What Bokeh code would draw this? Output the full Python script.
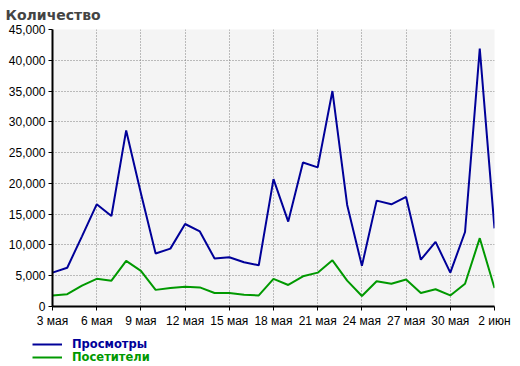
from bokeh.plotting import figure
from bokeh.models import ColumnDataSource, NumeralTickFormatter, FixedTicker, Range1d, Legend, LegendItem
from bokeh.embed import file_html
from bokeh.resources import INLINE

days = ["3 мая", "4 мая", "5 мая", "6 мая", "7 мая", "8 мая", "9 мая", "10 мая", "11 мая", "12 мая",
        "13 мая", "14 мая", "15 мая", "16 мая", "17 мая", "18 мая", "19 мая", "20 мая", "21 мая", "22 мая",
        "23 мая", "24 мая", "25 мая", "26 мая", "27 мая", "28 мая", "29 мая", "30 мая", "31 мая", "1 июн", "2 июн"]
views = [5500, 6300, 11400, 16600, 14700, 28600, 18400, 8600, 9400, 13400,
         12200, 7800, 8000, 7200, 6700, 20700, 13800, 23400, 22600, 35000,
         16500, 6600, 17200, 16600, 17800, 7600, 10500, 5500, 12100, 41900, 12700]
visitors = [1800, 2000, 3400, 4500, 4200, 7400, 5800, 2700, 3000, 3200,
            3100, 2200, 2200, 1900, 1800, 4500, 3500, 4900, 5500, 7500,
            4200, 1700, 4100, 3700, 4400, 2200, 2800, 1800, 3700, 11100, 3000]
tick_days = [0, 3, 6, 9, 12, 15, 18, 21, 24, 27, 30]
tick_labels = ["3 мая", "6 мая", "9 мая", "12 мая", "15 мая", "18 мая", "21 мая", "24 мая", "27 мая", "30 мая", "2 июн"]
y_ticks = [0, 5000, 10000, 15000, 20000, 25000, 30000, 35000, 40000, 45000]
series_names = ["Просмотры", "Посетители"]

BLUE = "#000099"
GREEN = "#009900"

src = ColumnDataSource(dict(x=list(range(len(days))), day=days, views=views, visitors=visitors))

p = figure(width=520, height=330, output_backend="svg", toolbar_location=None,
           x_range=Range1d(0, len(days) - 1), y_range=Range1d(0, 45000),
           min_border_left=52, min_border_right=26, min_border_top=29, min_border_bottom=24,
           title="Количество")
p.title.text_font = "DejaVu Sans"
p.title.text_font_style = "bold"
p.title.text_font_size = "14px"
p.title.align = "left"
p.title.vertical_align = "top"
p.title.offset = -47
p.title.standoff = 10

p.background_fill_color = "#f4f4f4"
p.border_fill_color = "white"
p.outline_line_color = None

for ax in (p.xaxis[0], p.yaxis[0]):
    ax.axis_line_color = "black"
    ax.axis_line_width = 2
    ax.major_tick_line_color = "black"
    ax.major_tick_line_width = 1
    ax.major_tick_out = 4
    ax.major_tick_in = 0
    ax.minor_tick_line_color = None
    ax.major_label_text_font = "Liberation Sans"
    ax.major_label_text_font_size = "12px"
    ax.major_label_text_color = "black"
    ax.major_label_standoff = 3

p.xaxis.ticker = FixedTicker(ticks=tick_days)
p.xaxis.major_label_overrides = {t: l for t, l in zip(tick_days, tick_labels)}
p.yaxis.ticker = FixedTicker(ticks=y_ticks)
p.yaxis.formatter = NumeralTickFormatter(format="0,0")

for g in (p.xgrid[0], p.ygrid[0]):
    g.grid_line_color = "#808080"
    g.grid_line_dash = "1 2"
    g.grid_line_width = 1

p.line("x", "views", source=src, line_color=BLUE, line_width=2)
p.line("x", "visitors", source=src, line_color=GREEN, line_width=2)

# legend strip below the chart (separate root, so its frame spans the full width)
p2 = figure(width=520, height=36, output_backend="svg", toolbar_location=None,
            x_axis_type=None, y_axis_type=None,
            x_range=Range1d(0, 1), y_range=Range1d(0, 1),
            min_border=0)
p2.outline_line_color = None
p2.grid.visible = False
p2.background_fill_color = "white"
p2.border_fill_color = "white"

# legend-only renderers, kept outside the visible range of the strip
hidden = ColumnDataSource(dict(x=[-2, -1], y=[-2, -1]))
for lab, col, loc in ((series_names[0], BLUE, (32, 15)), (series_names[1], GREEN, (32, 2))):
    dummy = p2.line("x", "y", source=hidden, line_color=col, line_width=2)
    leg = Legend(items=[LegendItem(label=lab, renderers=[dummy])],
                 location=loc, orientation="vertical",
                 label_text_font="DejaVu Sans", label_text_font_style="bold",
                 label_text_font_size="11.5px", label_text_color=col,
                 glyph_width=30, glyph_height=12, label_height=12, label_standoff=10,
                 padding=0, margin=0, spacing=0,
                 border_line_color=None, background_fill_alpha=0)
    p2.add_layout(leg, "center")

open("out.html", "w").write(file_html([p, p2], INLINE))
